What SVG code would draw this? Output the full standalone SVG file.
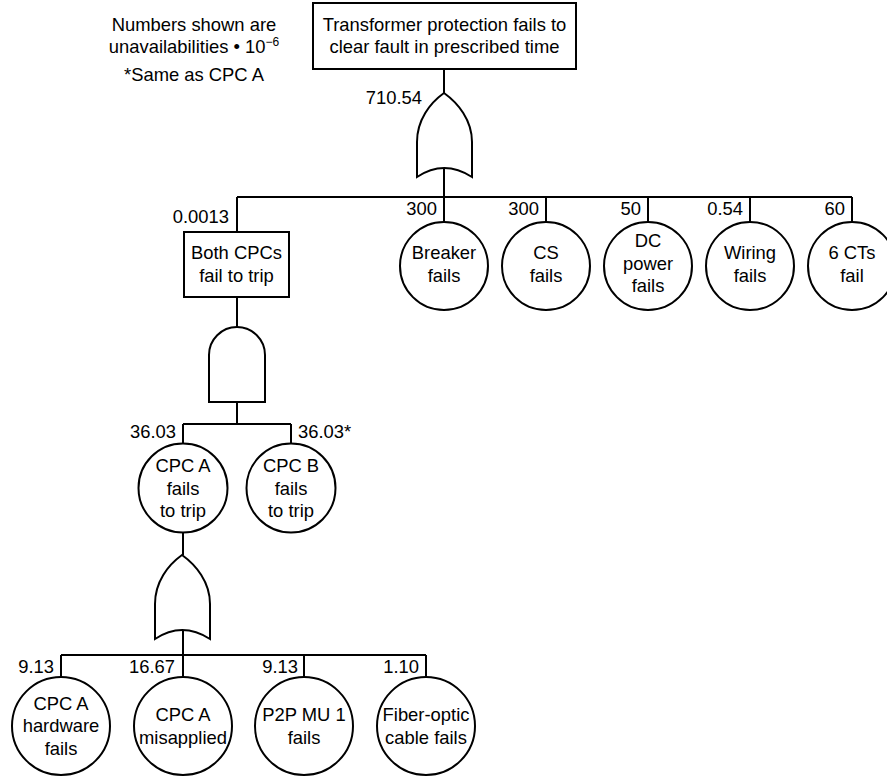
<svg xmlns="http://www.w3.org/2000/svg" width="887" height="778" viewBox="0 0 887 778">
<style>
text{font-family:"Liberation Sans",Arial,sans-serif;font-size:18.4px;fill:#000}
.c{text-anchor:middle}
.e{text-anchor:end}
.s{fill:#fff;stroke:#000;stroke-width:2}
.l{fill:none;stroke:#000;stroke-width:2}
</style>
<defs>
<path id="orgate" d="M444,93 C430,103 417,120 417,142 L417,177 Q444,159 472,177 L472,142 C472,120 458,103 444,93 Z"/>
</defs>
<rect width="887" height="778" fill="#fff"/>

<g id="note">
<text class="c" x="194" y="30.5">Numbers shown are</text>
<text class="c" x="194" y="52.5">unavailabilities • 10<tspan font-size="12" dy="-7">−6</tspan></text>
<text class="c" x="194" y="81">*Same as CPC A</text>
</g>

<g id="connectors" class="l">
<path d="M444,69 V93 M444,168 V197 M237,197 H852 M237,197 V232 M444,197 V222 M546,197 V222 M648,197 V222 M750,197 V222 M852,197 V222"/>
<path d="M237,297 V327 M237,402 V424 M183,424 H291 M183,424 V444 M291,424 V444"/>
<path d="M183,532 V555 M183,630 V655 M61,655 H426 M61,655 V677 M183,655 V677 M304,655 V677 M426,655 V677"/>
</g>

<g id="top-event">
<rect class="s" x="313" y="3" width="263" height="66"/>
<text class="c" x="444.5" y="30.5">Transformer protection fails to</text>
<text class="c" x="444.5" y="52.5">clear fault in prescribed time</text>
</g>

<g id="or-gate-1">
<use href="#orgate" class="s"/>
<text class="e" x="422" y="104">710.54</text>
</g>

<g id="both-cpcs">
<rect class="s" x="184" y="232" width="105" height="65"/>
<text class="c" x="236.5" y="258.5">Both CPCs</text>
<text class="c" x="236.5" y="281.5">fail to trip</text>
<text class="e" x="229" y="223">0.0013</text>
</g>

<g id="and-gate">
<path class="s" d="M209,402 L209,355 A28,28 0 0 1 265,355 L265,402 Z"/>
</g>

<g id="breaker">
<circle class="s" cx="444" cy="266" r="44"/>
<text class="c" x="444" y="258.5">Breaker</text>
<text class="c" x="444" y="281.5">fails</text>
<text class="e" x="437" y="215">300</text>
</g>
<g id="cs">
<circle class="s" cx="546" cy="266" r="44"/>
<text class="c" x="546" y="258.5">CS</text>
<text class="c" x="546" y="281.5">fails</text>
<text class="e" x="539" y="215">300</text>
</g>
<g id="dc-power">
<circle class="s" cx="648" cy="266" r="44"/>
<text class="c" x="648" y="247">DC</text>
<text class="c" x="648" y="269.5">power</text>
<text class="c" x="648" y="292">fails</text>
<text class="e" x="641" y="215">50</text>
</g>
<g id="wiring">
<circle class="s" cx="750" cy="266" r="44"/>
<text class="c" x="750" y="258.5">Wiring</text>
<text class="c" x="750" y="281.5">fails</text>
<text class="e" x="743" y="215">0.54</text>
</g>
<g id="cts">
<circle class="s" cx="852" cy="266" r="44"/>
<text class="c" x="852" y="258.5">6 CTs</text>
<text class="c" x="852" y="281.5">fail</text>
<text class="e" x="845" y="215">60</text>
</g>

<g id="cpc-a">
<circle class="s" cx="183" cy="488" r="44.5"/>
<text class="c" x="183" y="472">CPC A</text>
<text class="c" x="183" y="494.5">fails</text>
<text class="c" x="183" y="517">to trip</text>
<text class="e" x="176" y="438">36.03</text>
</g>
<g id="cpc-b">
<circle class="s" cx="291" cy="488" r="44.5"/>
<text class="c" x="291" y="472">CPC B</text>
<text class="c" x="291" y="494.5">fails</text>
<text class="c" x="291" y="517">to trip</text>
<text x="298" y="438">36.03*</text>
</g>

<g id="or-gate-2">
<use href="#orgate" class="s" transform="translate(-262,462)"/>
</g>

<g id="cpc-a-hardware">
<circle class="s" cx="61" cy="726" r="49"/>
<text class="c" x="61" y="709.5">CPC A</text>
<text class="c" x="61" y="732">hardware</text>
<text class="c" x="61" y="754.5">fails</text>
<text class="e" x="54" y="673">9.13</text>
</g>
<g id="cpc-a-misapplied">
<circle class="s" cx="183" cy="726" r="49"/>
<text class="c" x="183" y="721">CPC A</text>
<text class="c" x="183" y="743.5">misapplied</text>
<text class="e" x="175" y="673">16.67</text>
</g>
<g id="p2p-mu">
<circle class="s" cx="304" cy="726" r="49"/>
<text class="c" x="304" y="721">P2P MU 1</text>
<text class="c" x="304" y="743.5">fails</text>
<text class="e" x="298" y="673">9.13</text>
</g>
<g id="fiber">
<circle class="s" cx="426" cy="726" r="49"/>
<text class="c" x="426" y="721">Fiber-optic</text>
<text class="c" x="426" y="743.5">cable fails</text>
<text class="e" x="419" y="673">1.10</text>
</g>
</svg>
